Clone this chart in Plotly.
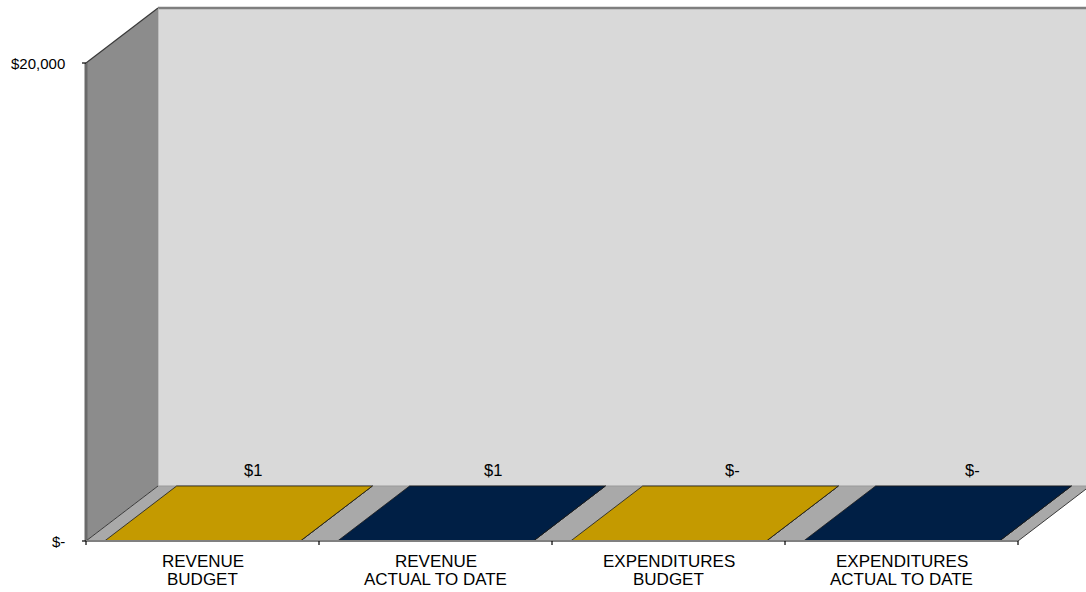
import plotly.graph_objects as go

# ---- data ----
categories = ["REVENUE\nBUDGET", "REVENUE\nACTUAL TO DATE",
              "EXPENDITURES\nBUDGET", "EXPENDITURES\nACTUAL TO DATE"]
values = [1, 1, 0, 0]
value_labels = ["$1", "$1", "$-", "$-"]
bar_colors = ["#C49A00", "#001F45", "#C49A00", "#001F45"]
y_tick_values = [0, 20000]
y_tick_labels = ["$-", "$20,000"]

# ---- geometry / style ----
AX_MAX = 20000
DX = 0.309      # depth offset in category units
DV = 2301       # depth offset in value units
HALF = 0.42     # bar half width
FONT = "Liberation Sans, Arial, sans-serif"
n = len(categories)

fig = go.Figure()

def poly(xs, ys, fill, line_color=None, lw=0):
    fig.add_trace(go.Scatter(
        x=xs + [xs[0]], y=ys + [ys[0]], mode="lines", fill="toself",
        fillcolor=fill, line=dict(color=line_color or fill, width=lw),
        hoverinfo="skip", showlegend=False))

def seg(xs, ys, color, w):
    fig.add_trace(go.Scatter(x=xs, y=ys, mode="lines",
                             line=dict(color=color, width=w),
                             hoverinfo="skip", showlegend=False))

# back wall
poly([DX, n + DX + 1, n + DX + 1, DX], [DV, DV, AX_MAX + DV, AX_MAX + DV], "#D9D9D9")
seg([DX, n + DX + 1], [AX_MAX + DV, AX_MAX + DV], "#7F7F7F", 2.5)
seg([DX, DX], [DV, AX_MAX + DV], "#B4B4B4", 1.5)

# left wall
poly([0, 0, DX, DX], [0, AX_MAX, AX_MAX + DV, DV], "#8C8C8C")
seg([0, DX], [AX_MAX, AX_MAX + DV], "#3A3A3A", 1.2)
seg([0, 0], [0, AX_MAX], "#6A6A6A", 3)

# floor
poly([0, n, n + DX, DX], [0, 0, DV, DV], "#A9A9A9")
seg([0, DX], [0, DV], "#3A3A3A", 1)
seg([n, n + DX], [0, DV], "#3A3A3A", 1)
seg([DX, n + DX + 1], [DV, DV], "#9A9A9A", 1)

# bars (3D boxes)
for i, (v, c) in enumerate(zip(values, bar_colors)):
    x0, x1 = i + 0.5 - HALF, i + 0.5 + HALF
    poly([x1, x1 + DX, x1 + DX, x1], [0, DV, v + DV, v], c, "#1A1A1A", 0.8)
    poly([x0, x1, x1 + DX, x0 + DX], [v, v, v + DV, v + DV], c, "#1A1A1A", 0.8)
    poly([x0, x1, x1, x0], [0, 0, v, v], c, "#1A1A1A", 0.8)

# front floor edge / axis
seg([0, n], [0, 0], "#808080", 2)

# tick marks
tx, ty = [], []
for t in y_tick_values:
    tx += [-4 / 233, 0, None]
    ty += [t, t, None]
for k in range(n + 1):
    tx += [k, k, None]
    ty += [0, -170, None]
seg(tx, ty, "#000000", 1.2)

annotations = []
for t, lab in zip(y_tick_values, y_tick_labels):
    annotations.append(dict(x=-0.0815, y=t, text=lab, showarrow=False,
                            xanchor="right", yanchor="middle",
                            font=dict(family=FONT, size=15, color="#000000")))
for i, (v, lab) in enumerate(zip(values, value_labels)):
    annotations.append(dict(x=i + 0.5 + 0.215 + 0.03 * i, y=v + 2970, text=lab,
                            showarrow=False, xanchor="center", yanchor="middle",
                            font=dict(family=FONT, size=16.5, color="#000000")))
for i, cat in enumerate(categories):
    for j, ln in enumerate(cat.split("\n")):
        annotations.append(dict(x=i + 0.5, y=-837 - 753 * j, text=ln, showarrow=False,
                                xanchor="center", yanchor="middle",
                                font=dict(family=FONT, size=17, color="#000000")))

fig.update_layout(
    width=1086, height=592,
    margin=dict(l=0, r=0, t=0, b=0),
    paper_bgcolor="#FFFFFF", plot_bgcolor="#FFFFFF",
    xaxis=dict(range=[-0.3691, 4.2918], visible=False, fixedrange=True),
    yaxis=dict(range=[-2134, 22636], visible=False, fixedrange=True),
    annotations=annotations,
    showlegend=False,
)

fig.write_html("out.html")
